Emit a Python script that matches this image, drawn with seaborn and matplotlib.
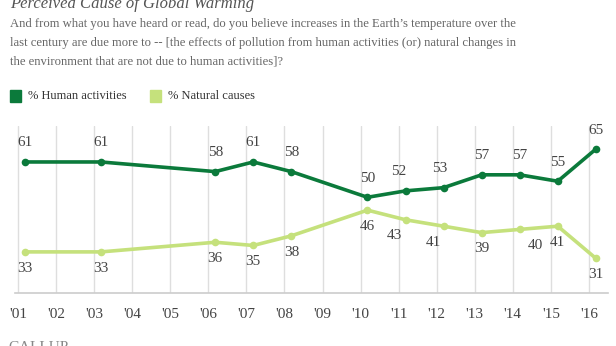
import matplotlib
matplotlib.use("Agg")
import matplotlib.pyplot as plt
from matplotlib.patches import Rectangle
import seaborn as sns
import pandas as pd

# Gallup survey years (polls fielded each March)
years = [2001, 2003, 2006, 2007, 2008, 2010, 2011, 2012, 2013, 2014, 2015, 2016]
human = [61, 61, 58, 61, 58, 50, 52, 53, 57, 57, 55, 65]
natural = [33, 33, 36, 35, 38, 46, 43, 41, 39, 40, 41, 31]
tick_years = list(range(2001, 2017))
tick_labels = ["'" + str(y)[2:] for y in tick_years]

series_names = ["% Human activities", "% Natural causes"]
colors = ["#0b7a3b", "#c5e17c"]

march = 0.18
df = pd.DataFrame({
    "x": [y + march for y in years] * 2,
    "value": human + natural,
    "series": [series_names[0]] * len(years) + [series_names[1]] * len(years),
})

sns.set_theme(style="white")
plt.rcParams["font.family"] = ["Liberation Serif", "DejaVu Serif"]

W, H = 616, 346
fig = plt.figure(figsize=(W / 100, H / 100), dpi=100)
ax = fig.add_axes([15 / W, 1 - 293 / H, (608 - 15) / W, (293 - 126) / H])

sns.lineplot(data=df, x="x", y="value", hue="series", palette=colors,
             hue_order=series_names, linewidth=2.6, marker="o",
             markersize=5.5, markeredgewidth=0, legend=False, ax=ax,
             zorder=3)

ax.set_xlim(2000.92, 2016.5)
ax.set_ylim(20.2, 72.2)
ax.set_xticks(tick_years)
ax.set_xticklabels(tick_labels, fontsize=11, color="#444444")
ax.tick_params(axis="x", length=0, pad=11)
ax.set_yticks([])
ax.set_xlabel("")
ax.set_ylabel("")
for y in tick_years:
    ax.axvline(y, color="#dedede", linewidth=1, zorder=1)
for side in ["top", "left", "right"]:
    ax.spines[side].set_visible(False)
ax.spines["bottom"].set_color("#cccccc")
ax.spines["bottom"].set_linewidth(1.2)

# value labels: human above, natural below (with small nudges to avoid the lines)
human_dx = {2011: -5, 2012: -3}
natural_dx = {2011: -8, 2012: -7, 2014: 11}
for y, h, n in zip(years, human, natural):
    ax.annotate(str(h), (y + march, h), xytext=(human_dx.get(y, 0), 9),
                textcoords="offset points", ha="center", va="bottom",
                fontsize=11, color="#444444")
    ax.annotate(str(n), (y + march, n), xytext=(natural_dx.get(y, 0), -7),
                textcoords="offset points", ha="center", va="top",
                fontsize=11, color="#444444")

# header
fig.text(10 / W, 1 - 8 / H, "Perceived Cause of Global Warming", fontsize=12,
         style="italic", color="#555555", va="baseline")
question = ("And from what you have heard or read, do you believe increases in the Earth\u2019s temperature over the\n"
            "last century are due more to -- [the effects of pollution from human activities (or) natural changes in\n"
            "the environment that are not due to human activities]?")
fig.text(10 / W, 1 - 18 / H, question, fontsize=9.1, color="#666666",
         va="top", linespacing=1.75)

# legend
for (x0, label), c in zip([(10, series_names[0]), (150, series_names[1])], colors):
    fig.patches.append(Rectangle((x0 / W, 1 - 102 / H), 11 / W, 12 / H,
                                 transform=fig.transFigure, color=c))
    fig.text((x0 + 18) / W, 1 - 96 / H, label, fontsize=9.0,
             color="#333333", va="center")

fig.text(8 / W, 1 - 341 / H, "GALLUP", fontsize=11, color="#888888",
         va="top")

fig.savefig("out.png", dpi=100)
